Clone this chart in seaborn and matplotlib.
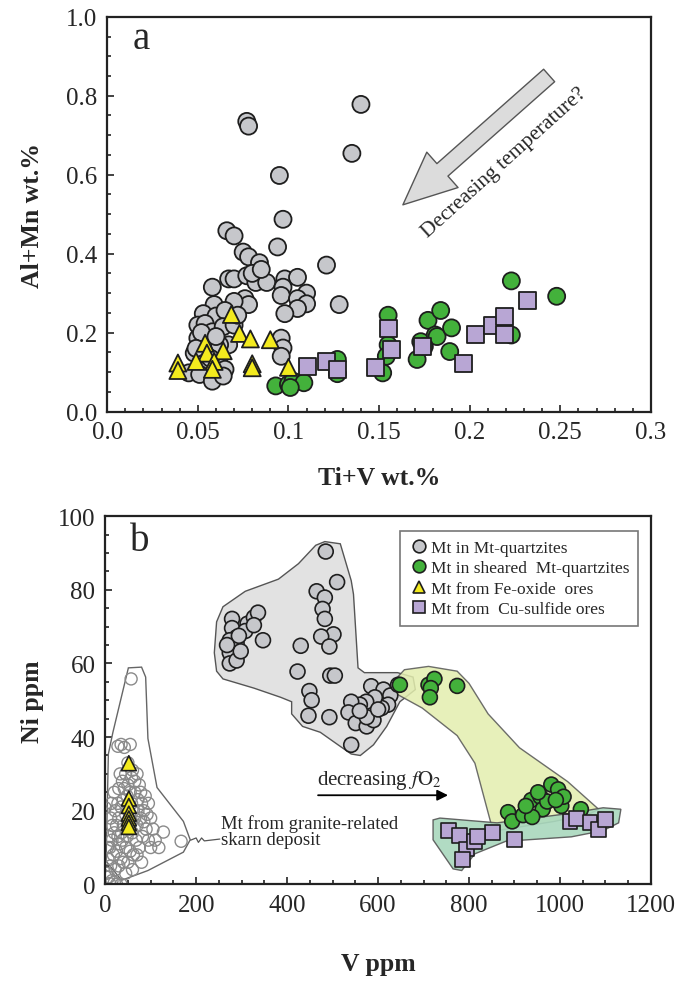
import numpy as np
import pandas as pd
import matplotlib
matplotlib.use("Agg")
import matplotlib.pyplot as plt
from matplotlib.ticker import MultipleLocator
import seaborn as sns

# --- panel a: Ti+V vs Al+Mn (wt.%) ---
qtz_tiv = [0.140, 0.077, 0.078, 0.135, 0.095, 0.097, 0.094, 0.066, 0.070, 0.121, 0.075, 0.078, 0.084,
           0.067, 0.070, 0.058, 0.077, 0.082, 0.088, 0.098, 0.105, 0.097, 0.096, 0.110, 0.105, 0.110,
           0.105, 0.128, 0.098, 0.076, 0.078, 0.070, 0.059, 0.053, 0.060, 0.065, 0.050, 0.054, 0.058,
           0.064, 0.050, 0.055, 0.048, 0.053, 0.056, 0.062, 0.065, 0.045, 0.051, 0.058, 0.064, 0.096,
           0.097, 0.096, 0.067, 0.062, 0.070, 0.072, 0.052, 0.060, 0.057, 0.049, 0.080, 0.085]
qtz_almn = [0.778, 0.735, 0.723, 0.654, 0.598, 0.487, 0.417, 0.458, 0.445, 0.371, 0.404, 0.392, 0.377,
            0.336, 0.336, 0.315, 0.344, 0.327, 0.327, 0.336, 0.340, 0.315, 0.294, 0.300, 0.286, 0.273,
            0.261, 0.271, 0.248, 0.286, 0.271, 0.279, 0.271, 0.248, 0.242, 0.256, 0.219, 0.223, 0.202,
            0.215, 0.186, 0.169, 0.148, 0.127, 0.111, 0.119, 0.107, 0.098, 0.094, 0.077, 0.090, 0.186,
            0.161, 0.140, 0.169, 0.169, 0.219, 0.244, 0.200, 0.190, 0.135, 0.160, 0.350, 0.360]

sh_tiv = [0.093, 0.100, 0.1025, 0.1085, 0.101, 0.127, 0.127, 0.155, 0.155, 0.154, 0.152, 0.173, 0.171,
          0.177, 0.184, 0.181, 0.182, 0.190, 0.189, 0.223, 0.248, 0.223, 0.175]
sh_almn = [0.065, 0.069, 0.077, 0.073, 0.061, 0.096, 0.132, 0.244, 0.169, 0.140, 0.098, 0.177, 0.132,
           0.231, 0.256, 0.194, 0.190, 0.212, 0.152, 0.331, 0.292, 0.194, 0.165]

fe_tiv = [0.0685, 0.073, 0.079, 0.090, 0.054, 0.055, 0.064, 0.059, 0.049, 0.039, 0.039, 0.080, 0.080,
          0.058, 0.100]
fe_almn = [0.246, 0.198, 0.184, 0.182, 0.173, 0.148, 0.154, 0.127, 0.127, 0.123, 0.104, 0.121, 0.111,
           0.107, 0.112]

cu_tiv = [0.1105, 0.121, 0.127, 0.148, 0.155, 0.157, 0.174, 0.1965, 0.203, 0.2125, 0.219, 0.219, 0.232]
cu_almn = [0.115, 0.127, 0.107, 0.111, 0.211, 0.157, 0.165, 0.121, 0.194, 0.217, 0.240, 0.194, 0.281]

xticks_a = [0.0, 0.05, 0.1, 0.15, 0.2, 0.25, 0.3]
xlabels_a = ["0.0", "0.05", "0.1", "0.15", "0.2", "0.25", "0.3"]
yticks_a = [0.0, 0.2, 0.4, 0.6, 0.8, 1.0]
ylabels_a = ["0.0", "0.2", "0.4", "0.6", "0.8", "1.0"]

# --- panel b: V vs Ni (ppm) ---
qtz_v = [485, 510, 465, 483, 478, 483, 502, 475, 493, 495, 505, 430, 423, 449, 454, 447, 493, 541,
         279, 279, 289, 274, 279, 289, 274, 274, 289, 313, 327, 336, 308, 347, 294, 327, 298, 268,
         585, 612, 627, 622, 608, 593, 574, 560, 541, 535, 551, 575, 590, 575, 560, 644, 600]
qtz_ni = [90.4, 82.1, 79.6, 77.9, 74.8, 72.1, 67.9, 67.3, 64.6, 56.7, 56.7, 64.8, 57.8, 52.5, 50.0,
          45.8, 45.4, 37.9,
          72.1, 69.6, 67.1, 66.3, 64.6, 65.4, 62.9, 60.0, 60.8, 70.8, 72.5, 73.8, 68.8, 66.3, 67.5,
          70.4, 63.3, 65.0,
          53.8, 52.9, 51.3, 48.8, 47.9, 50.8, 49.6, 48.8, 49.6, 46.7, 43.8, 42.9, 44.6, 45.4, 47.1,
          54.2, 47.5]

sh_v = [648, 711, 724, 716, 714, 774, 886, 895, 919, 937, 957, 981, 996, 962, 939, 1003, 1008, 972,
        952, 1046, 925, 991]
sh_ni = [54.2, 54.2, 55.8, 53.3, 50.8, 53.9, 19.6, 17.1, 18.8, 22.9, 23.8, 27.1, 25.8, 20.4, 18.3,
         21.3, 23.8, 22.5, 25.0, 20.4, 21.3, 22.9]

fe_v = [52, 52, 52, 52, 52, 52, 52]
fe_ni = [32.9, 23.3, 21.3, 19.2, 17.9, 16.7, 15.6]

cu_v = [755, 779, 794, 785, 813, 852, 900, 1022, 1037, 1066, 1085, 1100, 818]
cu_ni = [14.6, 13.3, 9.6, 6.7, 11.7, 14.2, 12.1, 17.1, 17.9, 16.7, 15.0, 17.5, 12.9]

skarn_v = [57, 128, 167, 0, 28, 35, 42, 55, 60, 70, 75, 65, 72, 80, 85, 78, 90, 95, 100,
           45, 38, 30, 50, 55, 48, 40, 35, 58, 62, 45, 30, 25, 40, 52, 60, 70, 68, 75, 82,
           20, 15, 10, 18, 25, 32, 38, 45, 55, 62, 50, 40, 30, 22, 12, 6, 3, 8, 15, 25, 35, 20, 10,
           65, 72, 78, 85, 88, 92, 58, 48, 36, 28, 16, 8, 5, 12, 22, 28, 20, 14, 65, 58, 50, 42, 33,
           70, 80, 60, 45, 35, 95, 105, 110, 118, 100]
skarn_ni = [55.8, 14.2, 11.7, 20.8, 37.5, 38.0, 37.2, 38.0, 31, 30, 27, 25, 23, 22, 20, 18, 15, 12, 10,
            30, 28, 26, 27, 25, 24, 23, 21, 22, 20, 19, 18, 16, 16, 15, 14, 16, 12, 10, 13,
            14, 12, 10, 8, 9, 11, 12, 10, 9, 8, 6, 6, 5, 4, 5, 7, 3, 2, 1, 0, 0, 0.5, 0.2,
            18, 20, 25, 17, 24, 19, 17, 13, 14, 13, 16, 13, 10, 18, 20, 22, 25, 22, 28, 29, 33, 26, 30,
            8, 6, 4, 3, 7, 22, 15, 12, 10, 18]

# envelope fields (V, Ni)
env_qtz_v = [483, 517, 541, 546, 556, 570, 643, 677, 682, 648, 619, 590, 561, 541, 512, 473, 434,
             410, 410, 386, 327, 259, 245, 240, 245, 259, 308, 381, 425, 463]
env_qtz_ni = [93.1, 92.5, 82.5, 78.8, 58.8, 57.5, 57.5, 56.3, 52.9, 49.6, 42.9, 37.9, 35.0, 35.4,
              37.9, 41.3, 42.9, 46.3, 49.6, 50.8, 53.3, 55.8, 57.9, 62.9, 71.3, 75.4, 79.6, 82.9,
              87.1, 92.1]
env_sh_v = [643, 658, 711, 774, 800, 842, 911, 1017, 1085, 1066, 988, 862, 848, 813, 774, 697, 635]
env_sh_ni = [56.3, 58.3, 59.2, 57.9, 54.6, 46.3, 37.1, 27.9, 20.4, 19.2, 17.1, 14.6, 16.7, 32.9,
             40.4, 47.9, 52.1]
env_cu_v = [721, 736, 862, 1017, 1095, 1134, 1129, 1095, 1025, 881, 813, 784, 765, 721]
env_cu_ni = [17.5, 18.0, 16.7, 19.2, 20.8, 20.4, 16.7, 14.6, 12.9, 11.7, 8.3, 3.75, 4.2, 12.1]
env_sk_v = [36, 2, 7, 17, 51, 80, 89, 94, 114, 172, 187, 172, 94]
env_sk_ni = [1.1, 6.3, 35.4, 41.3, 58.8, 59.0, 56.3, 39.6, 26.3, 17.1, 12.1, 8.75, 3.75]

groups = ["Mt in Mt-quartzites", "Mt in sheared  Mt-quartzites",
          "Mt from Fe-oxide  ores", "Mt from  Cu-sulfide ores"]
colors = {groups[0]: "#c6c7cb", groups[1]: "#43b13b", groups[2]: "#f3ea1e", groups[3]: "#b8a6d4"}
marks = {groups[0]: "o", groups[1]: "o", groups[2]: "^", groups[3]: "s"}

sns.set_style("ticks")
plt.rcParams["font.family"] = ["Liberation Serif", "DejaVu Serif"]
plt.rcParams["mathtext.fontset"] = "stix"

def make_df(xs, ys):
    frames = []
    for g, x, y in zip(groups, xs, ys):
        frames.append(pd.DataFrame({"x": x, "y": y, "group": g}))
    return pd.concat(frames, ignore_index=True)

df_a = make_df([qtz_tiv, sh_tiv, fe_tiv, cu_tiv], [qtz_almn, sh_almn, fe_almn, cu_almn])
df_b = make_df([qtz_v, sh_v, fe_v, cu_v], [qtz_ni, sh_ni, fe_ni, cu_ni])

fig = plt.figure(figsize=(6.83, 9.87), dpi=100)
ax1 = fig.add_axes([0.157, 0.582, 0.796, 0.400])
ax2 = fig.add_axes([0.154, 0.103, 0.799, 0.373])


def style_axes(ax):
    for sp in ax.spines.values():
        sp.set_linewidth(1.6)
        sp.set_color("#222222")
    ax.tick_params(which="both", direction="in", top=False, right=False, labelsize=18, pad=7,
                   width=1.2, color="#222222")
    ax.tick_params(which="major", length=5)
    ax.tick_params(which="minor", length=3)


# panel a
sns.scatterplot(data=df_a, x="x", y="y", hue="group", style="group", palette=colors, markers=marks,
                s=150, edgecolor="#1e1e1e", linewidth=1.3, legend=False, ax=ax1, zorder=3)
ax1.set_xlim(0, 0.3)
ax1.set_ylim(0, 1.0)
ax1.set_xticks(xticks_a, xlabels_a)
ax1.set_yticks(yticks_a, ylabels_a)
ax1.xaxis.set_minor_locator(MultipleLocator(0.01))
ax1.yaxis.set_minor_locator(MultipleLocator(0.05))
style_axes(ax1)
ax1.set_xlabel("Ti+V wt.%", fontsize=18.5, fontweight="bold", labelpad=16)
ax1.set_ylabel("Al+Mn wt.%", fontsize=18.5, fontweight="bold", labelpad=16)
ax1.text(0.014, 0.945, "a", fontsize=28, va="center", ha="left")
ax1.annotate("", xy=(0.162, 0.519), xytext=(0.245, 0.856),
             arrowprops=dict(arrowstyle="simple,head_length=1.9,head_width=1.7,tail_width=0.6",
                             fc="#dcdcdc", ec="#555555", lw=1.0, mutation_scale=20))
ax1.text(0.219, 0.632, "Decreasing temperature?", fontsize=15.5, rotation=42,
         ha="center", va="center", rotation_mode="anchor")

# panel b
ax2.fill(env_qtz_v, env_qtz_ni, fc="#e2e2e2", ec="#555555", lw=1.0, zorder=1)
ax2.fill(env_sh_v, env_sh_ni, fc="#e3eeae", ec="#555555", lw=1.0, alpha=0.85, zorder=1.2)
ax2.fill(env_cu_v, env_cu_ni, fc="#a9d8bd", ec="#555555", lw=1.0, alpha=0.9, zorder=1.4)
ax2.fill(env_sk_v, env_sk_ni, fc="white", ec="#666666", lw=1.0, zorder=1.5)
sns.scatterplot(x=skarn_v, y=skarn_ni, marker="o", s=75, facecolor="none", edgecolor="#8a8a8a",
                linewidth=1.0, ax=ax2, zorder=2)
sns.scatterplot(data=df_b, x="x", y="y", hue="group", style="group", palette=colors, markers=marks,
                s=115, edgecolor="#1e1e1e", linewidth=1.2, ax=ax2, zorder=3)
ax2.set_xlim(0, 1200)
ax2.set_ylim(0, 100)
ax2.xaxis.set_major_locator(MultipleLocator(200))
ax2.xaxis.set_minor_locator(MultipleLocator(50))
ax2.yaxis.set_major_locator(MultipleLocator(20))
ax2.yaxis.set_minor_locator(MultipleLocator(5))
style_axes(ax2)
ax2.set_xlabel("V ppm", fontsize=18.5, fontweight="bold", labelpad=26)
ax2.set_ylabel("Ni ppm", fontsize=18.5, fontweight="bold", labelpad=10)
ax2.text(55, 93.5, "b", fontsize=28, va="center", ha="left")

leg = ax2.legend(loc="upper left", bbox_to_anchor=(0.54, 0.96), borderaxespad=0, fontsize=12.5,
                 frameon=True, fancybox=False, edgecolor="#777777", framealpha=1, handletextpad=0.1,
                 borderpad=0.5, labelspacing=0.25, handlelength=1.2, markerscale=0.85)
leg.get_frame().set_linewidth(1.2)

ax2.annotate("", xy=(760, 24.2), xytext=(462, 24.2),
             arrowprops=dict(arrowstyle="-|>", color="black", lw=1.3, mutation_scale=16))
ax2.text(466, 25.3, r"decreasing $f\mathrm{O}_2$", fontsize=15, ha="left", va="bottom")
ax2.plot([188, 200, 205, 212, 218, 252], [12.0, 12.6, 11.4, 12.6, 11.8, 12.3], color="#555555", lw=0.9)
ax2.text(255, 9.8, "Mt from granite-related\nskarn deposit", fontsize=13.5, ha="left", va="bottom",
         linespacing=0.95)

fig.savefig("out.png", dpi=100)
